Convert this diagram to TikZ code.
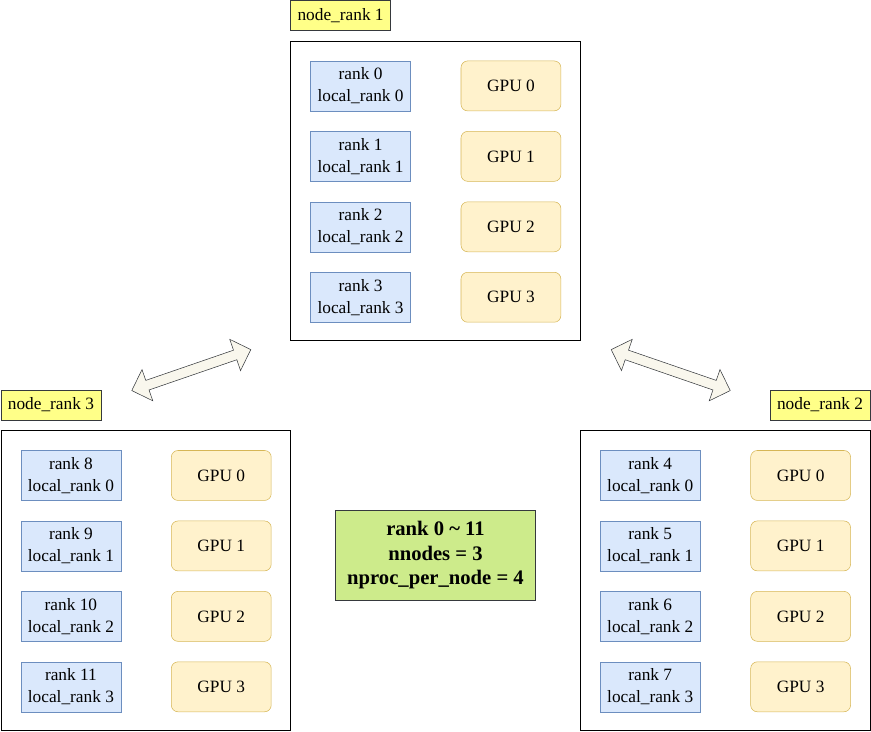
\documentclass[tikz,border=0pt]{standalone}
\usepackage{fontspec}
\setmainfont{Liberation Serif}
\definecolor{rankfill}{HTML}{DAE8FC}
\definecolor{rankline}{HTML}{6C8EBF}
\definecolor{gpufill}{HTML}{FFF2CC}
\definecolor{gpuline}{HTML}{D6B656}
\definecolor{tagfill}{HTML}{FFFF88}
\definecolor{darkline}{HTML}{36393D}
\definecolor{sumfill}{HTML}{CDEB8B}
\definecolor{arrowfill}{HTML}{F9F7ED}
\usetikzlibrary{positioning}
\usetikzlibrary{shapes.arrows}

\begin{document}
\begin{tikzpicture}[x=0.75pt, y=-0.75pt]
  \tikzset{node distance = 15pt and 37.5pt}
  \tikzset{
    rankbox/.style={draw=rankline, fill=rankfill, minimum width=75pt, minimum height=37.5pt, inner sep=0pt, align=center, font=\fontsize{13}{16.5}\selectfont},
    gpubox/.style={draw=gpuline, fill=gpufill, rounded corners=5pt, minimum width=75pt, minimum height=37.5pt, inner sep=0pt, font=\fontsize{13}{16.5}\selectfont},
    frame/.style={draw, minimum width=217.5pt, minimum height=225pt, inner sep=0pt},
    tag/.style={draw=darkline, fill=tagfill, minimum width=75pt, minimum height=22.5pt, inner sep=0pt, font=\fontsize{13}{15}\selectfont},
    link/.style={double arrow, draw=darkline, fill=arrowfill, minimum height=94.5pt, inner xsep=0pt, inner ysep=3.6pt, double arrow head extend=8.6pt}
  }
  \useasboundingbox (-1,-1) rectangle (871,731);

  % node_rank 1
  \node[frame] (f1) at (435,190) {};
  \node[tag, above=7.5pt of f1.north west, anchor=south west] (t1) {node\_rank 1};
  \node[rankbox, below right=15pt and 15pt of f1.north west] (r1a) {rank 0\\local\_rank 0};
  \node[rankbox, below=of r1a] (r1b) {rank 1\\local\_rank 1};
  \node[rankbox, below=of r1b] (r1c) {rank 2\\local\_rank 2};
  \node[rankbox, below=of r1c] (r1d) {rank 3\\local\_rank 3};
  \node[gpubox, right=of r1a] (g1a) {GPU 0};
  \node[gpubox, right=of r1b] (g1b) {GPU 1};
  \node[gpubox, right=of r1c] (g1c) {GPU 2};
  \node[gpubox, right=of r1d] (g1d) {GPU 3};

  % node_rank 3
  \node[frame] (f3) at (145,580) {};
  \node[tag, above=7.5pt of f3.north west, anchor=south west] (t3) {node\_rank 3};
  \node[rankbox, below right=15pt and 15pt of f3.north west] (r3a) {rank 8\\local\_rank 0};
  \node[rankbox, below=of r3a] (r3b) {rank 9\\local\_rank 1};
  \node[rankbox, below=of r3b] (r3c) {rank 10\\local\_rank 2};
  \node[rankbox, below=of r3c] (r3d) {rank 11\\local\_rank 3};
  \node[gpubox, right=of r3a] (g3a) {GPU 0};
  \node[gpubox, right=of r3b] (g3b) {GPU 1};
  \node[gpubox, right=of r3c] (g3c) {GPU 2};
  \node[gpubox, right=of r3d] (g3d) {GPU 3};

  % node_rank 2
  \node[frame] (f2) at (725,580) {};
  \node[tag, above=7.5pt of f2.north east, anchor=south east] (t2) {node\_rank 2};
  \node[rankbox, below right=15pt and 15pt of f2.north west] (r2a) {rank 4\\local\_rank 0};
  \node[rankbox, below=of r2a] (r2b) {rank 5\\local\_rank 1};
  \node[rankbox, below=of r2b] (r2c) {rank 6\\local\_rank 2};
  \node[rankbox, below=of r2c] (r2d) {rank 7\\local\_rank 3};
  \node[gpubox, right=of r2a] (g2a) {GPU 0};
  \node[gpubox, right=of r2b] (g2b) {GPU 1};
  \node[gpubox, right=of r2c] (g2c) {GPU 2};
  \node[gpubox, right=of r2d] (g2d) {GPU 3};

  % summary and links
  \node[draw=darkline, fill=sumfill, minimum width=150pt, minimum height=67.5pt, align=center, font=\fontsize{15.5}{18.4}\selectfont\bfseries] (sum) at (435,555) {rank 0 \textasciitilde{} 11\\nnodes = 3\\nproc\_per\_node = 4};
  \node[link, rotate=19] (l31) at (190.5,369.5) {};
  \node[link, rotate=-19] (l12) at (670.5,369.5) {};
\end{tikzpicture}
\end{document}
